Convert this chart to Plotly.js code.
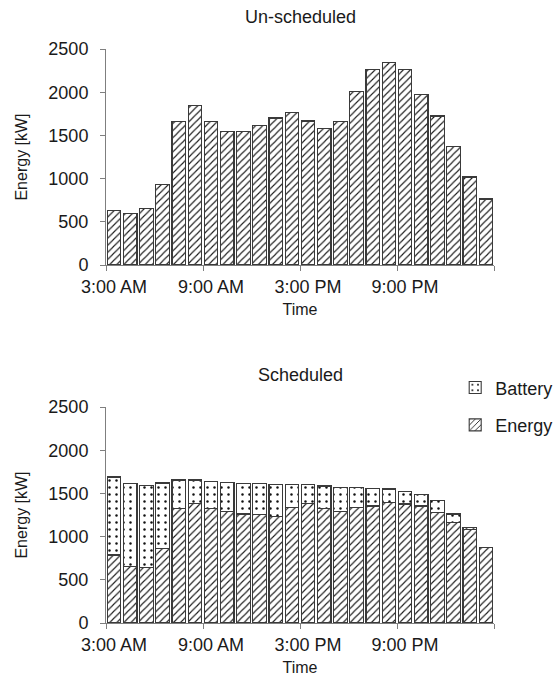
<!DOCTYPE html>
<html>
<head>
<meta charset="utf-8">
<script src="https://cdn.plot.ly/plotly-3.0.1.min.js"></script>
<style>html,body{margin:0;padding:0;background:#fff}#chart{width:554px;height:683px}</style>
</head>
<body>
<div id="chart"></div>
<script>
var hours = ['3:00 AM','4:00 AM','5:00 AM','6:00 AM','7:00 AM','8:00 AM','9:00 AM','10:00 AM','11:00 AM','12:00 PM','1:00 PM','2:00 PM',
             '3:00 PM','4:00 PM','5:00 PM','6:00 PM','7:00 PM','8:00 PM','9:00 PM','10:00 PM','11:00 PM','12:00 AM','1:00 AM','2:00 AM'];
var tickLabels = ['3:00 AM','9:00 AM','3:00 PM','9:00 PM'];
var unscheduled = [628,601,659,930,1659,1845,1659,1547,1543,1612,1702,1764,1667,1578,1659,2012,2264,2345,2267,1977,1725,1368,1019,764];
var schedEnergy = [787,652,640,864,1327,1385,1327,1288,1262,1258,1235,1341,1385,1327,1288,1339,1354,1393,1377,1354,1281,1165,1084,872];
var schedBattery = [903,960,954,756,328,270,313,340,355,359,370,262,218,259,282,228,205,158,147,131,135,97,23,0];

var idx = hours.map(function(h, i){ return i; });
var tickPos = tickLabels.map(function(t){ return hours.indexOf(t); });
var boundaryTicks = tickPos.map(function(p){ return p - 0.5; }).concat([hours.length - 0.5]);

var txt = '#1a1a1a';
var fam = 'Liberation Sans, Arial, sans-serif';
var font = {family: fam, size: 16, color: txt};
var hatch = {shape: '/', fgcolor: '#1a1a1a', bgcolor: '#fff', size: 5, solidity: 0.22};
var dots = {shape: '.', fgcolor: '#111', bgcolor: '#fff', size: 7, solidity: 0.1};
var lineStyle = {color: '#3a3a3a', width: 1.1};

var traces = [
  {type: 'bar', x: idx, y: unscheduled, name: 'Energy', showlegend: false, xaxis: 'x', yaxis: 'y',
   marker: {color: '#fff', pattern: hatch, line: lineStyle}, hoverinfo: 'y'},
  {type: 'bar', x: idx, y: schedEnergy, name: 'Energy', legendrank: 2, legendgroup: 'e', xaxis: 'x2', yaxis: 'y2',
   marker: {color: '#fff', pattern: hatch, line: lineStyle}},
  {type: 'bar', x: idx, y: schedBattery, name: 'Battery', legendrank: 1, legendgroup: 'b', xaxis: 'x2', yaxis: 'y2',
   marker: {color: '#fff', pattern: dots, line: lineStyle}}
];

function xAxis(anchor){
  return {
    anchor: anchor, domain: [0, 1], range: [-0.5, hours.length - 0.5],
    tickmode: 'array', tickvals: tickPos, ticktext: tickLabels, ticks: '', ticklabelstandoff: 5,
    showline: true, linecolor: '#7f7f7f', linewidth: 1, showgrid: false, zeroline: false,
    tickfont: {family: fam, size: 18, color: txt},
    minor: {tickmode: 'array', tickvals: boundaryTicks, ticks: 'outside', ticklen: 5, tickcolor: '#7f7f7f', tickwidth: 1, showgrid: false},
    title: {text: 'Time', font: {family: fam, size: 16, color: txt}, standoff: 8}
  };
}
function yAxis(anchor, dom){
  return {
    anchor: anchor, domain: dom, range: [0, 2500], tickmode: 'linear', tick0: 0, dtick: 500,
    ticks: 'outside', ticklen: 5, tickcolor: '#7f7f7f', showline: true, linecolor: '#7f7f7f', linewidth: 1,
    ticklabelstandoff: 8,
    showgrid: false, zeroline: false,
    tickfont: {family: fam, size: 18, color: txt},
    title: {text: 'Energy [kW]', font: {family: fam, size: 16, color: txt}, standoff: 16}
  };
}

var layout = {
  width: 554, height: 683, paper_bgcolor: '#fff', plot_bgcolor: '#fff', font: font,
  margin: {l: 106, r: 60, t: 49, b: 60, autoexpand: false},
  barmode: 'stack', bargap: 0.17,
  xaxis: xAxis('y'), yaxis: yAxis('x', [0.6237, 1]),
  xaxis2: xAxis('y2'), yaxis2: yAxis('x2', [0, 0.3763]),
  showlegend: true,
  legend: {x: 0.9, y: 0.442, xanchor: 'left', yanchor: 'top', traceorder: 'grouped', tracegroupgap: 11,
           font: {family: fam, size: 18, color: txt}, bgcolor: 'rgba(0,0,0,0)', itemwidth: 30},
  annotations: [
    {text: 'Un-scheduled', xref: 'paper', yref: 'paper', x: 0.5, y: 1.056, showarrow: false, yanchor: 'middle',
     font: {family: fam, size: 18, color: txt}},
    {text: 'Scheduled', xref: 'paper', yref: 'paper', x: 0.5, y: 0.432, showarrow: false, yanchor: 'middle',
     font: {family: fam, size: 18, color: txt}}
  ]
};

Plotly.newPlot('chart', traces, layout, {displayModeBar: false, staticPlot: true});
</script>
</body>
</html>
